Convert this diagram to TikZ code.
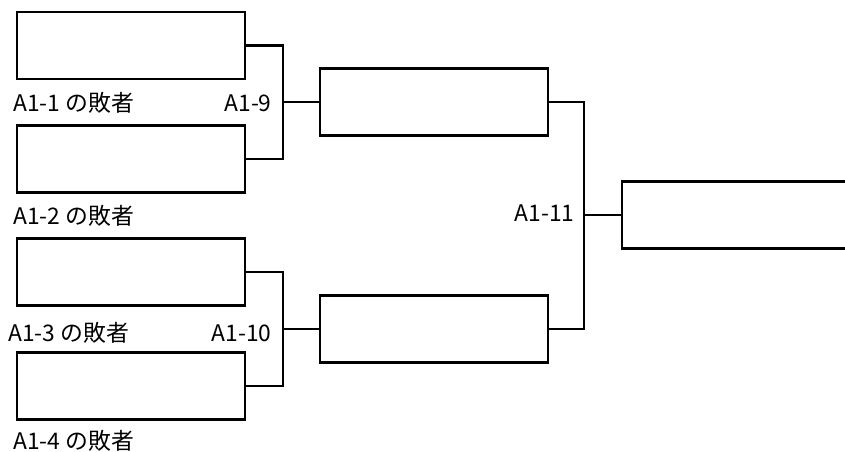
\documentclass[tikz,border=0pt]{standalone}
\usepackage{fontspec}
\setmainfont{Noto Sans CJK JP}
\usetikzlibrary{positioning}

\begin{document}
\begin{tikzpicture}[
    x=0.02cm, y=-0.02cm,
    slot/.style={rectangle, draw, line width=1.2pt, minimum width=4.56cm, minimum height=1.34cm, inner sep=0pt, outer sep=0pt},
    lbl/.style={font=\fontsize{13}{15}\selectfont, inner sep=0pt},
    line/.style={line width=1.2pt},
  ]
    \clip (0,0) rectangle (845,452);
    % First round
    \node[slot] (s1) at (131,45.5) {};
    \node[slot] (s2) at (131,159) {};
    \node[slot] (s3) at (131,272) {};
    \node[slot] (s4) at (131,386) {};
    % Second round and final
    \node[slot] (m9) at (434,102) {};
    \node[slot] (m10) at (434,329) {};
    \node[slot, anchor=west] (f11) at (622,215) {};

    % Labels
    \node[lbl, anchor=base west] (l1) at (13,112) {A1-1 の敗者};
    \node[lbl, anchor=base west] (l2) at (13,225) {A1-2 の敗者};
    \node[lbl, anchor=base west] (l3) at (8,342) {A1-3 の敗者};
    \node[lbl, anchor=base west] (l4) at (13,449) {A1-4 の敗者};
    \node[lbl, anchor=base east] (g9) at (272,112) {A1-9};
    \node[lbl, anchor=base east] (g10) at (272,342) {A1-10};
    \node[lbl, anchor=base east] (g11) at (575,222) {A1-11};

    % Brackets
    \coordinate (j9) at (283,102);
    \coordinate (j10) at (283,329);
    \coordinate (j11) at (584,215);
    \draw[line] (s1.east) -| (j9) |- (s2.east);
    \draw[line] (j9) -- (m9.west);
    \draw[line] (s3.east) -| (j10) |- (s4.east);
    \draw[line] (j10) -- (m10.west);
    \draw[line] (m9.east) -| (j11) |- (m10.east);
    \draw[line] (j11) -- (f11.west);
  \end{tikzpicture}
\end{document}
